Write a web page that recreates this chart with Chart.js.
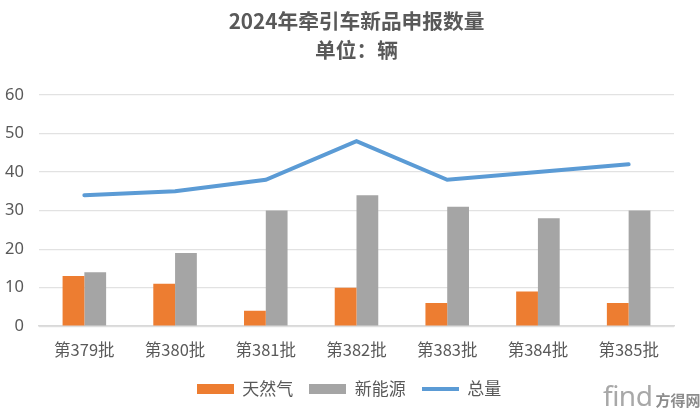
<!DOCTYPE html>
<html><head><meta charset="utf-8">
<script src="https://cdn.jsdelivr.net/npm/chart.js@4"></script>
<style>
html,body{margin:0;padding:0;background:#fff;overflow:hidden}
#w{position:relative;width:700px;height:412px}
#mark{position:absolute;left:603px;top:376px;font:28px "Noto Sans","DejaVu Sans";color:#a8a8a8;white-space:nowrap;letter-spacing:-.5px}
#mark span{font:bold 15px "Noto Sans CJK SC";color:#8c8c8c;letter-spacing:0;margin-left:3px}
</style></head><body>
<div id="w"><canvas id="c" width="700" height="412"></canvas><div id="mark">find<span>方得网</span></div></div>
<script>
const titleLines = ['2024年牵引车新品申报数量','单位：辆'];
const categories = ['第379批','第380批','第381批','第382批','第383批','第384批','第385批'];
const gas = [13,11,4,10,6,9,6];
const ev = [14,19,30,34,31,28,30];
const total = [34,35,38,48,38,40,42];
const F = '"Noto Sans CJK SC","Noto Sans",sans-serif';
function swatch(color,h){
  const s=document.createElement('canvas');s.width=37;s.height=h;
  const x=s.getContext('2d');x.fillStyle=color;x.fillRect(0,0,37,h);return s;
}
Chart.defaults.animation=false;
const shiftLegend={id:'shiftLegend',afterLayout(ch){const l=ch.legend;l.left+=12;l.right+=12;l.top-=5;l.bottom-=5;}};
new Chart(document.getElementById('c'),{
  plugins:[shiftLegend],
  data:{labels:categories,datasets:[
    {type:'line',label:'总量',data:total,borderColor:'#5B9BD5',borderWidth:4,pointRadius:0,tension:0,order:0,fill:false,borderCapStyle:'round',pointStyle:swatch('#5B9BD5',4)},
    {type:'bar',label:'天然气',data:gas,backgroundColor:'#ED7D31',order:1,pointStyle:swatch('#ED7D31',10)},
    {type:'bar',label:'新能源',data:ev,backgroundColor:'#A5A5A5',order:2,pointStyle:swatch('#A5A5A5',10)}
  ]},
  options:{
    responsive:false,devicePixelRatio:1,
    layout:{padding:{left:0,right:26,top:7,bottom:0}},
    datasets:{bar:{categoryPercentage:.48,barPercentage:1}},
    plugins:{
      title:{display:true,fullSize:false,text:titleLines,color:'#595959',font:{family:F,size:20.7,weight:'bold',lineHeight:1.4},padding:{top:0,bottom:30}},
      legend:{position:'bottom',labels:{
        usePointStyle:true,pointStyleWidth:37,boxHeight:10,color:'#595959',font:{family:F,size:17},padding:16,
        sort:(a,b)=>{const o={'天然气':0,'新能源':1,'总量':2};return o[a.text]-o[b.text];},
        generateLabels(ch){return ch.data.datasets.map((d,i)=>({text:d.label,pointStyle:d.pointStyle,fontColor:'#595959',lineWidth:0,strokeStyle:'transparent',fillStyle:d.borderColor,datasetIndex:i}));}
      }},
      tooltip:{enabled:false}
    },
    scales:{
      x:{grid:{display:false,drawTicks:false},border:{color:'#D9D9D9',width:1.5},afterFit(s){s.height-=5;},ticks:{color:'#595959',font:{family:F,size:16.5},padding:14,maxRotation:0}},
      y:{min:0,max:60,grid:{color:'#E2E2E2',lineWidth:1.2,drawTicks:false},border:{display:false},afterFit(s){s.width=39;},ticks:{stepSize:10,color:'#595959',font:{family:'"Noto Sans",sans-serif',size:16.5},padding:15}}
    }
  }
});
</script></body></html>
